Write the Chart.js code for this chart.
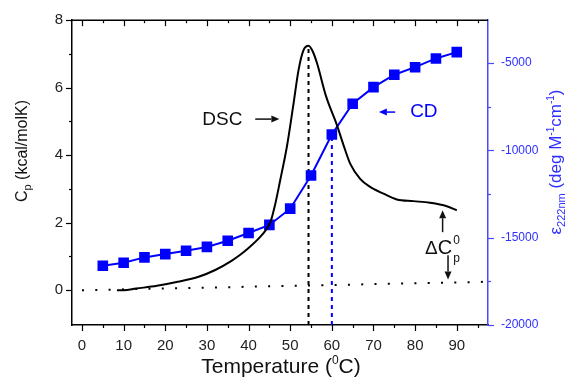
<!DOCTYPE html>
<html>
<head>
<meta charset="utf-8">
<script src="https://cdn.jsdelivr.net/npm/chart.js@4.4.0/dist/chart.umd.min.js"></script>
<style>
  html, body { margin: 0; padding: 0; background: #fff; }
</style>
</head>
<body>
<canvas id="myChart" width="566" height="377"></canvas>
<script>
// CD signal (right axis), one point every 5 degrees
const cdTemps = [5, 10, 15, 20, 25, 30, 35, 40, 45, 50, 55, 60, 65, 70, 75, 80, 85, 90];
const cdValues = [-16610, -16440, -16130, -15940, -15750, -15530, -15180, -14730, -14270,
                  -13340, -11440, -9090, -7330, -6380, -5670, -5240, -4740, -4380];

// DSC trace (left axis)
const dscTemps = [8.4, 10, 13, 18, 23, 28, 32, 36, 38, 40, 42.8, 44, 45.2, 46.4, 47.6, 49.2,
                  50.8, 52, 53.2, 54.4, 55.5, 56.5, 58.6, 61.2, 62.8, 64.4, 66.8, 69.2, 72.4,
                  75.6, 79.6, 83.6, 87.6, 90];
const dscCp = [0, 0, 0.05, 0.13, 0.25, 0.40, 0.60, 0.88, 1.05, 1.25, 1.58, 1.76, 2.0, 2.55,
               3.26, 4.25, 5.53, 6.52, 7.11, 7.24, 7.05, 6.7, 5.75, 4.9, 4.3, 3.75, 3.3, 3.06,
               2.86, 2.69, 2.64, 2.59, 2.49, 2.37];

// dotted baseline
const baseTemps = [0, 97];
const baseCp = [0, 0.25];

// dashed markers: DSC peak and CD midpoint
const dscPeakT = 54.4, dscPeakCp = 7.15;
const cdMidT = 60, cdMidValue = -9090;

// tick labels
const xTicks = [0, 10, 20, 30, 40, 50, 60, 70, 80, 90];
const cpTicks = [0, 2, 4, 6, 8];
const cdTicks = [-20000, -15000, -10000, -5000];

const FONT = '"Liberation Sans", Arial, sans-serif';
const BLUE = '#0000ff';
const BLUE_AXIS = '#4a4aff';
const BLUE_TEXT = '#2f2fff';

Chart.defaults.font.family = FONT;

function line(ctx, x1, y1, x2, y2) {
  ctx.beginPath(); ctx.moveTo(x1, y1); ctx.lineTo(x2, y2); ctx.stroke();
}

function arrow(ctx, x1, y1, x2, y2, color) {
  const a = Math.atan2(y2 - y1, x2 - x1), h = 8, w = 3.5;
  const c = Math.cos(a), s = Math.sin(a);
  ctx.strokeStyle = color; ctx.fillStyle = color; ctx.lineWidth = 1.5;
  line(ctx, x1, y1, x2 - h * c, y2 - h * s);
  ctx.beginPath();
  ctx.moveTo(x2, y2);
  ctx.lineTo(x2 - h * c + w * s, y2 - h * s - w * c);
  ctx.lineTo(x2 - h * c - w * s, y2 - h * s + w * c);
  ctx.closePath(); ctx.fill();
}

// text with sub/superscripts, centred on (x, y) baseline, optional rotation
function rich(ctx, parts, x, y, rot, color) {
  ctx.save();
  ctx.translate(x, y);
  if (rot) ctx.rotate(rot);
  ctx.fillStyle = color;
  ctx.textAlign = 'left'; ctx.textBaseline = 'alphabetic';
  let w = 0;
  parts.forEach(p => { ctx.font = p[1] + 'px ' + FONT; w += ctx.measureText(p[0]).width; });
  let cx = -w / 2;
  parts.forEach(p => {
    ctx.font = p[1] + 'px ' + FONT;
    ctx.fillText(p[0], cx, p[2] || 0);
    cx += ctx.measureText(p[0]).width;
  });
  ctx.restore();
}

const decorations = {
  id: 'decorations',
  afterDraw(chart) {
    const { ctx, chartArea: a, scales: { x, y, y2 } } = chart;
    ctx.save();
    ctx.lineCap = 'butt';

    // top frame
    ctx.strokeStyle = '#000'; ctx.lineWidth = 1.5;
    line(ctx, a.left, a.top, a.right, a.top);

    // x ticks, bottom outward and top inward
    ctx.lineWidth = 1.2;
    xTicks.forEach(t => {
      [t, t + 5].forEach((v, i) => {
        const px = Math.round(x.getPixelForValue(v)) + 0.5, len = i ? 3 : 6;
        line(ctx, px, a.bottom, px, a.bottom + len);
        line(ctx, px, a.top, px, a.top + len);
      });
    });

    // left ticks
    cpTicks.forEach(v => {
      const py = Math.round(y.getPixelForValue(v)) + 0.5;
      line(ctx, a.left - 6, py, a.left, py);
      if (v + 1 < y.max) {
        const pm = Math.round(y.getPixelForValue(v + 1)) + 0.5;
        line(ctx, a.left - 3, pm, a.left, pm);
      }
    });

    // right ticks
    ctx.strokeStyle = BLUE_AXIS;
    cdTicks.forEach(v => {
      const py = Math.round(y2.getPixelForValue(v)) + 0.5;
      line(ctx, a.right, py, a.right + 6, py);
      if (v + 2500 < y2.max) {
        const pm = Math.round(y2.getPixelForValue(v + 2500)) + 0.5;
        line(ctx, a.right, pm, a.right + 3, pm);
      }
    });

    // axis titles
    rich(ctx, [['C', 16], ['p', 11, 4], [' (kcal/molK)', 16]], 27, 151, -Math.PI / 2, '#111');
    rich(ctx, [['Temperature (', 21], ['0', 12, -9], ['C)', 21]], 281, 373, 0, '#111');
    rich(ctx, [['\u03b5', 17], ['222nm', 11, 4], [' (deg M', 17], ['-1', 10, -7], ['cm', 17],
               ['-1', 10, -7], [')', 17]], 561, 162, -Math.PI / 2, BLUE_TEXT);

    // DSC label and arrow
    ctx.fillStyle = '#111'; ctx.font = '19px ' + FONT;
    ctx.textAlign = 'center'; ctx.textBaseline = 'middle';
    ctx.fillText('DSC', x.getPixelForValue(33.7), y.getPixelForValue(5.04));
    arrow(ctx, x.getPixelForValue(41.6), y.getPixelForValue(5.07),
          x.getPixelForValue(47.4), y.getPixelForValue(5.07), '#111');

    // CD label and arrow
    ctx.fillStyle = BLUE; ctx.font = '19px ' + FONT;
    ctx.textAlign = 'left'; ctx.textBaseline = 'middle';
    ctx.fillText('CD', x.getPixelForValue(78.8), y2.getPixelForValue(-7810));
    arrow(ctx, x.getPixelForValue(75.2), y2.getPixelForValue(-7810),
          x.getPixelForValue(71.3), y2.getPixelForValue(-7810), BLUE);

    // delta Cp annotation
    arrow(ctx, x.getPixelForValue(86.6), y.getPixelForValue(1.72),
          x.getPixelForValue(86.6), y.getPixelForValue(2.37), '#111');
    arrow(ctx, x.getPixelForValue(87.9), y.getPixelForValue(1.04),
          x.getPixelForValue(87.9), y.getPixelForValue(0.32), '#111');
    const dx = x.getPixelForValue(82.4), dy = y.getPixelForValue(1.07);
    ctx.fillStyle = '#111'; ctx.textAlign = 'left'; ctx.textBaseline = 'alphabetic';
    ctx.font = '19px ' + FONT;
    ctx.fillText('\u0394', dx, dy);
    const w1 = ctx.measureText('\u0394').width;
    ctx.font = '20px ' + FONT;
    ctx.fillText('C', dx + w1, dy);
    const w2 = ctx.measureText('C').width;
    ctx.font = '12px ' + FONT;
    ctx.fillText('0', dx + w1 + w2 + 1, dy - 10);
    ctx.fillText('p', dx + w1 + w2 + 1, dy + 8);

    ctx.restore();
  }
};

const chartData = {
  datasets: [
    {
      label: 'DSC',
      data: dscTemps.map((t, i) => ({ x: t, y: dscCp[i] })),
      yAxisID: 'y',
      borderColor: '#000',
      borderWidth: 2,
      pointRadius: 0,
      cubicInterpolationMode: 'monotone'
    },
    {
      label: 'CD',
      data: cdTemps.map((t, i) => ({ x: t, y: cdValues[i] })),
      yAxisID: 'y2',
      borderColor: BLUE,
      backgroundColor: BLUE,
      borderWidth: 2,
      pointStyle: 'rect',
      pointRadius: 7.5,
      pointBorderWidth: 0
    },
    {
      label: 'baseline',
      data: baseTemps.map((t, i) => ({ x: t, y: baseCp[i] })),
      yAxisID: 'y',
      borderColor: '#000',
      borderWidth: 2,
      borderDash: [2, 11.3],
      pointRadius: 0
    },
    {
      label: 'Tm DSC',
      data: [{ x: dscPeakT, y: -1.03 }, { x: dscPeakT, y: dscPeakCp }],
      yAxisID: 'y',
      borderColor: '#000',
      borderWidth: 2,
      borderDash: [4, 4],
      pointRadius: 0
    },
    {
      label: 'Tm CD',
      data: [{ x: cdMidT, y: -20000 }, { x: cdMidT, y: cdMidValue }],
      yAxisID: 'y2',
      borderColor: BLUE,
      borderWidth: 2,
      borderDash: [4, 4],
      pointRadius: 0
    }
  ]
};

const chartConfig = {
  type: 'line',
  data: chartData,
  options: {
    responsive: false,
    animation: false,
    layout: { padding: { top: 20, left: 0, right: 0, bottom: 0 } },
    plugins: { legend: { display: false }, tooltip: { enabled: false } },
    scales: {
      x: {
        type: 'linear',
        position: 'bottom',
        min: -2.4,
        max: 97.5,
        afterBuildTicks: s => { s.ticks = xTicks.map(v => ({ value: v })); },
        afterFit: s => { s.height = 52; },
        grid: { display: false, drawTicks: false },
        border: { display: true, color: '#000', width: 1.5 },
        ticks: { color: '#222', font: { size: 15 }, padding: 12, maxRotation: 0,
                 callback: v => String(v) }
      },
      y: {
        type: 'linear',
        position: 'left',
        min: -1.03,
        max: 8,
        afterBuildTicks: s => { s.ticks = cpTicks.map(v => ({ value: v })); },
        afterFit: s => { s.width = 72; },
        grid: { display: false, drawTicks: false },
        border: { display: true, color: '#000', width: 1.5 },
        ticks: { color: '#222', font: { size: 15 }, padding: 9, callback: v => String(v) }
      },
      y2: {
        type: 'linear',
        position: 'right',
        min: -20000,
        max: -2550,
        afterBuildTicks: s => { s.ticks = cdTicks.map(v => ({ value: v })); },
        afterFit: s => { s.width = 78; },
        grid: { display: false, drawTicks: false },
        border: { display: true, color: BLUE_AXIS, width: 1.5 },
        ticks: { color: BLUE_TEXT, font: { size: 12 }, padding: 13, callback: v => String(v) }
      }
    }
  },
  plugins: [decorations]
};

const myChart = new Chart(document.getElementById('myChart'), chartConfig);
</script>
</body>
</html>
